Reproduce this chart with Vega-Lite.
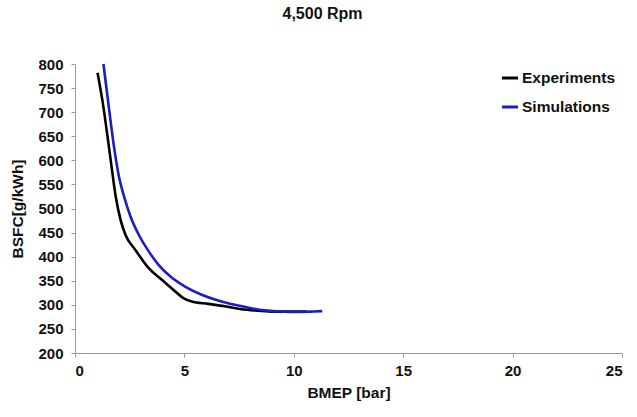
{
  "$schema": "https://vega.github.io/schema/vega-lite/v6.json",
  "autosize": "none",
  "width": 547,
  "height": 289,
  "padding": {"left": 75, "top": 64, "right": 15, "bottom": 64},
  "background": "white",
  "title": {"text": "4,500 Rpm", "fontSize": 16, "fontWeight": "bold", "font": "Liberation Sans", "color": "#111", "offset": 35, "dx": -26},
  "config": {
    "view": {"stroke": null},
    "font": "Liberation Sans",
    "axis": {"grid": false, "domainColor": "#999", "tickColor": "#999", "tickSize": 4, "labelFontSize": 15, "labelFontWeight": "bold", "labelColor": "#111", "titleFontSize": 15.5, "titleFontWeight": "bold", "titleColor": "#111"}
  },
  "data": {"values": [
    {"s": "Experiments", "x": 1.03, "y": 782},
    {"s": "Experiments", "x": 1.25, "y": 725},
    {"s": "Experiments", "x": 1.63, "y": 601},
    {"s": "Experiments", "x": 1.86, "y": 525},
    {"s": "Experiments", "x": 2.08, "y": 477},
    {"s": "Experiments", "x": 2.31, "y": 445},
    {"s": "Experiments", "x": 2.76, "y": 414},
    {"s": "Experiments", "x": 3.37, "y": 376},
    {"s": "Experiments", "x": 3.97, "y": 352},
    {"s": "Experiments", "x": 4.5, "y": 331},
    {"s": "Experiments", "x": 4.95, "y": 314},
    {"s": "Experiments", "x": 5.33, "y": 307},
    {"s": "Experiments", "x": 6.09, "y": 302},
    {"s": "Experiments", "x": 6.84, "y": 297},
    {"s": "Experiments", "x": 7.6, "y": 291},
    {"s": "Experiments", "x": 8.35, "y": 288},
    {"s": "Experiments", "x": 9.1, "y": 286},
    {"s": "Experiments", "x": 9.86, "y": 286},
    {"s": "Experiments", "x": 10.6, "y": 286},
    {"s": "Simulations", "x": 1.3, "y": 800},
    {"s": "Simulations", "x": 1.56, "y": 705},
    {"s": "Simulations", "x": 1.78, "y": 629},
    {"s": "Simulations", "x": 2.01, "y": 566},
    {"s": "Simulations", "x": 2.24, "y": 525},
    {"s": "Simulations", "x": 2.54, "y": 483},
    {"s": "Simulations", "x": 2.92, "y": 445},
    {"s": "Simulations", "x": 3.37, "y": 411},
    {"s": "Simulations", "x": 3.82, "y": 383},
    {"s": "Simulations", "x": 4.43, "y": 356},
    {"s": "Simulations", "x": 5.03, "y": 338},
    {"s": "Simulations", "x": 5.79, "y": 321},
    {"s": "Simulations", "x": 6.54, "y": 309},
    {"s": "Simulations", "x": 7.3, "y": 300},
    {"s": "Simulations", "x": 8.05, "y": 293},
    {"s": "Simulations", "x": 8.8, "y": 288},
    {"s": "Simulations", "x": 9.56, "y": 286},
    {"s": "Simulations", "x": 10.3, "y": 285},
    {"s": "Simulations", "x": 10.77, "y": 286},
    {"s": "Simulations", "x": 11.3, "y": 287}
  ]},
  "mark": {"type": "line", "strokeWidth": 2.6, "interpolate": "monotone"},
  "encoding": {
    "x": {"field": "x", "type": "quantitative", "scale": {"domain": [0, 25], "nice": false}, "axis": {"values": [0, 5, 10, 15, 20, 25], "title": "BMEP [bar]", "titlePadding": 7, "labelPadding": 6}},
    "y": {"field": "y", "type": "quantitative", "scale": {"domain": [200, 800], "nice": false, "zero": false}, "axis": {"values": [200, 250, 300, 350, 400, 450, 500, 550, 600, 650, 700, 750, 800], "title": "BSFC[g/kWh]", "titlePadding": 12, "labelPadding": 8}},
    "color": {"field": "s", "type": "nominal", "scale": {"domain": ["Experiments", "Simulations"], "range": ["#000000", "#1c1cc4"]},
      "legend": {"title": null, "orient": "none", "legendX": 425, "legendY": 4, "symbolType": "stroke", "symbolStrokeWidth": 3, "symbolSize": 260, "labelFontSize": 15.5, "labelFontWeight": "bold", "labelColor": "#111", "rowPadding": 10, "labelOffset": 2}}
  }
}
